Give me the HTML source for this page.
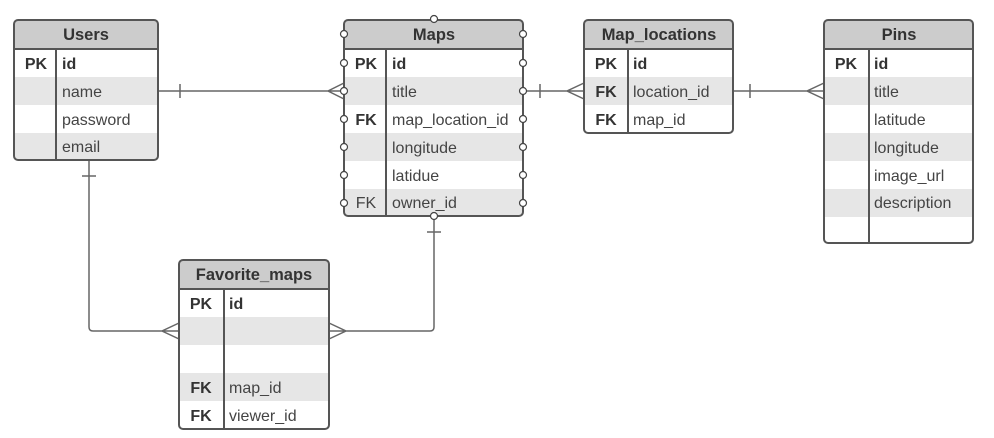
<!DOCTYPE html>
<html><head><meta charset="utf-8"><style>
html,body{margin:0;padding:0;background:#fff;}
svg{display:block;}
text{font-family:"Liberation Sans",sans-serif;font-size:16px;fill:#444;}
.h{font-weight:bold;font-size:16.5px;text-anchor:middle;fill:#333;}
.k{font-weight:bold;text-anchor:middle;fill:#333;}
.b{font-weight:bold;fill:#333;}
.ln{stroke:#666;stroke-width:1.5;fill:none;}
.c{fill:#fff;stroke:#444;stroke-width:1.2;}
</style></head><body>
<svg width="994" height="438" viewBox="0 0 994 438" xmlns="http://www.w3.org/2000/svg">
<path class="ln" d="M158 91 H344 M180 84 V98 M344 83 L328 91 L344 99"/>
<path class="ln" d="M523 91 H584 M540 84 V98 M584 83 L567 91 L584 99"/>
<path class="ln" d="M733 91 H824 M750 84 V98 M824 83 L807 91 L824 99"/>
<path class="ln" d="M89 160 V327 Q89 331 93 331 H179 M82 176 H96 M179 323 L162 331 L179 339"/>
<path class="ln" d="M434 216 V327 Q434 331 430 331 H329 M427 232 H441 M329 323 L346 331 L329 339"/>

<g>
<clipPath id="cu"><rect x="14" y="20" width="144" height="140" rx="4"/></clipPath>
<g clip-path="url(#cu)">
<rect x="14" y="20" width="144" height="140" fill="#fff"/>
<rect x="14" y="20" width="144" height="29" fill="#cccccc"/>
<rect x="14" y="77" width="144" height="28" fill="#e6e6e6"/>
<rect x="14" y="133" width="144" height="27" fill="#e6e6e6"/>
</g>
<line x1="14" y1="49" x2="158" y2="49" stroke="#555" stroke-width="2"/>
<line x1="56" y1="49" x2="56" y2="160" stroke="#555" stroke-width="2"/>
<rect x="14" y="20" width="144" height="140" rx="4" fill="none" stroke="#555" stroke-width="2"/>
<text class="h" x="86" y="40">Users</text>
<text class="k" x="36" y="69">PK</text><text class="b" x="62" y="69">id</text>
<text x="62" y="97">name</text>
<text x="62" y="125">password</text>
<text x="62" y="152">email</text>
</g>

<g>
<clipPath id="cm"><rect x="344" y="20" width="179" height="196" rx="4"/></clipPath>
<g clip-path="url(#cm)">
<rect x="344" y="20" width="179" height="196" fill="#fff"/>
<rect x="344" y="20" width="179" height="29" fill="#cccccc"/>
<rect x="344" y="77" width="179" height="28" fill="#e6e6e6"/>
<rect x="344" y="133" width="179" height="28" fill="#e6e6e6"/>
<rect x="344" y="189" width="179" height="27" fill="#e6e6e6"/>
</g>
<line x1="344" y1="49" x2="523" y2="49" stroke="#555" stroke-width="2"/>
<line x1="386" y1="49" x2="386" y2="216" stroke="#555" stroke-width="2"/>
<rect x="344" y="20" width="179" height="196" rx="4" fill="none" stroke="#555" stroke-width="2"/>
<text class="h" x="434" y="40">Maps</text>
<text class="k" x="366" y="69">PK</text><text class="b" x="392" y="69">id</text>
<text x="392" y="97">title</text>
<text class="k" x="366" y="125">FK</text><text x="392" y="125">map_location_id</text>
<text x="392" y="153">longitude</text>
<text x="392" y="181">latidue</text>
<text x="366" y="208" style="text-anchor:middle">FK</text><text x="392" y="208">owner_id</text>
<g>
<circle class="c" cx="344" cy="34" r="3.5"/><circle class="c" cx="344" cy="63" r="3.5"/><circle class="c" cx="344" cy="91" r="3.5"/><circle class="c" cx="344" cy="119" r="3.5"/><circle class="c" cx="344" cy="147" r="3.5"/><circle class="c" cx="344" cy="175" r="3.5"/><circle class="c" cx="344" cy="203" r="3.5"/>
<circle class="c" cx="523" cy="34" r="3.5"/><circle class="c" cx="523" cy="63" r="3.5"/><circle class="c" cx="523" cy="91" r="3.5"/><circle class="c" cx="523" cy="119" r="3.5"/><circle class="c" cx="523" cy="147" r="3.5"/><circle class="c" cx="523" cy="175" r="3.5"/><circle class="c" cx="523" cy="203" r="3.5"/>
<circle class="c" cx="434" cy="19" r="3.5"/><circle class="c" cx="434" cy="216" r="3.5"/>
</g>
</g>

<g>
<clipPath id="cl"><rect x="584" y="20" width="149" height="113" rx="4"/></clipPath>
<g clip-path="url(#cl)">
<rect x="584" y="20" width="149" height="113" fill="#fff"/>
<rect x="584" y="20" width="149" height="29" fill="#cccccc"/>
<rect x="584" y="77" width="149" height="28" fill="#e6e6e6"/>
</g>
<line x1="584" y1="49" x2="733" y2="49" stroke="#555" stroke-width="2"/>
<line x1="628" y1="49" x2="628" y2="133" stroke="#555" stroke-width="2"/>
<rect x="584" y="20" width="149" height="113" rx="4" fill="none" stroke="#555" stroke-width="2"/>
<text class="h" x="659" y="40">Map_locations</text>
<text class="k" x="606" y="69">PK</text><text class="b" x="633" y="69">id</text>
<text class="k" x="606" y="97">FK</text><text x="633" y="97">location_id</text>
<text class="k" x="606" y="125">FK</text><text x="633" y="125">map_id</text>
</g>

<g>
<clipPath id="cp"><rect x="824" y="20" width="149" height="223" rx="4"/></clipPath>
<g clip-path="url(#cp)">
<rect x="824" y="20" width="149" height="223" fill="#fff"/>
<rect x="824" y="20" width="149" height="29" fill="#cccccc"/>
<rect x="824" y="77" width="149" height="28" fill="#e6e6e6"/>
<rect x="824" y="133" width="149" height="28" fill="#e6e6e6"/>
<rect x="824" y="189" width="149" height="28" fill="#e6e6e6"/>
</g>
<line x1="824" y1="49" x2="973" y2="49" stroke="#555" stroke-width="2"/>
<line x1="869" y1="49" x2="869" y2="243" stroke="#555" stroke-width="2"/>
<rect x="824" y="20" width="149" height="223" rx="4" fill="none" stroke="#555" stroke-width="2"/>
<text class="h" x="899" y="40">Pins</text>
<text class="k" x="846" y="69">PK</text><text class="b" x="874" y="69">id</text>
<text x="874" y="97">title</text>
<text x="874" y="125">latitude</text>
<text x="874" y="153">longitude</text>
<text x="874" y="181">image_url</text>
<text x="874" y="208">description</text>
</g>

<g>
<clipPath id="cf"><rect x="179" y="260" width="150" height="169" rx="4"/></clipPath>
<g clip-path="url(#cf)">
<rect x="179" y="260" width="150" height="169" fill="#fff"/>
<rect x="179" y="260" width="150" height="29" fill="#cccccc"/>
<rect x="179" y="317" width="150" height="28" fill="#e6e6e6"/>
<rect x="179" y="373" width="150" height="28" fill="#e6e6e6"/>
</g>
<line x1="179" y1="289" x2="329" y2="289" stroke="#555" stroke-width="2"/>
<line x1="224" y1="289" x2="224" y2="429" stroke="#555" stroke-width="2"/>
<rect x="179" y="260" width="150" height="169" rx="4" fill="none" stroke="#555" stroke-width="2"/>
<text class="h" x="254" y="280">Favorite_maps</text>
<text class="k" x="201" y="309">PK</text><text class="b" x="229" y="309">id</text>
<text class="k" x="201" y="393">FK</text><text x="229" y="393">map_id</text>
<text class="k" x="201" y="421">FK</text><text x="229" y="421">viewer_id</text>
</g>
</svg>
</body></html>
